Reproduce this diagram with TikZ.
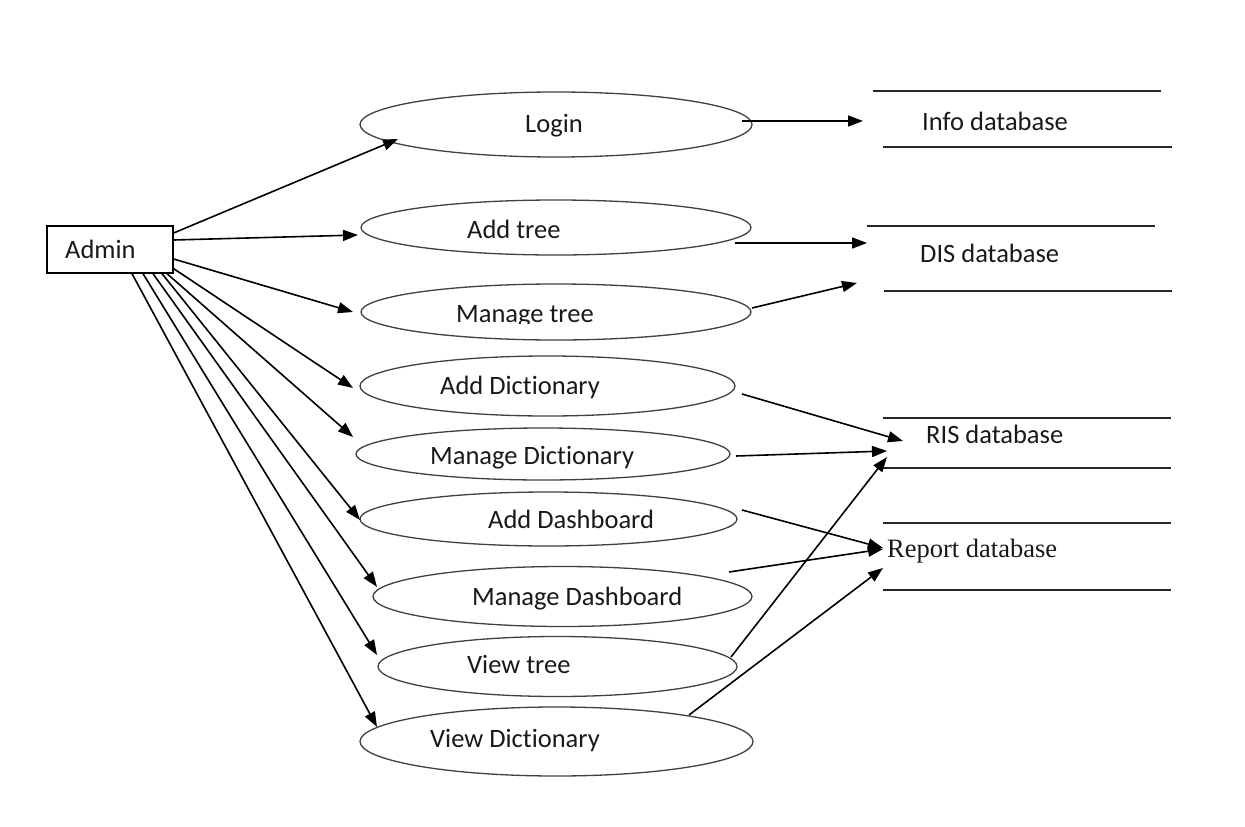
\documentclass[tikz,border=0pt]{standalone}
\usepackage{fontspec}
\setmainfont{Carlito}[Ligatures={NoCommon}]
\newfontfamily\serifdb{Liberation Serif}
\usetikzlibrary{arrows.meta,calc,shapes.geometric}
\begin{document}
\begin{tikzpicture}[x=1pt,y=-1pt,
  uc/.style={draw=black!75, line width=1.3pt, ellipse, inner sep=0pt},
  lbl/.style={anchor=base west, inner sep=0pt, font=\fontsize{26.5}{30}\selectfont, text=black!90},
  arr/.style={-{Triangle[length=15pt,width=11pt]}, line width=1.6pt},
  dbline/.style={line width=1.5pt, draw=black!85}]
\useasboundingbox (0,0) rectangle (1245,827);
\fill[white] (0,0) rectangle (1245,827);

% actor
\node[draw, line width=1.3pt, minimum width=126pt, minimum height=47pt, inner sep=0pt] (admin) at (110,249.5) {};
\node[lbl] (admint) at (65,258) {Admin};

% use cases
\node[uc, minimum width=392pt, minimum height=65pt] (login) at (556,124.5) {};
\node[uc, minimum width=390pt, minimum height=55pt] (addtree) at (556,227.5) {};
\node[uc, minimum width=390pt, minimum height=56pt] (managetree) at (556,312) {};
\node[uc, minimum width=375pt, minimum height=60pt] (adddict) at (547.5,386) {};
\node[uc, minimum width=374pt, minimum height=52pt] (managedict) at (543,454) {};
\node[uc, minimum width=377pt, minimum height=54pt] (adddash) at (548.5,519) {};
\node[uc, minimum width=379pt, minimum height=60pt] (managedash) at (562.5,596.5) {};
\node[uc, minimum width=359pt, minimum height=60pt] (viewtree) at (557.5,666.5) {};
\node[uc, minimum width=393pt, minimum height=69pt] (viewdict) at (556.5,741.5) {};

\node[lbl] (logint) at (525,132) {Login};
\node[lbl] (addtreet) at (467,238) {Add tree};
\begin{scope}
  \clip (400,280) rectangle (700,323);
  \node[lbl] (managetreet) at (456,322) {Manage tree};
\end{scope}
\node[lbl] (adddictt) at (440,394) {Add Dictionary};
\node[lbl] (managedictt) at (430,464) {Manage Dictionary};
\node[lbl] (adddasht) at (488,528) {Add Dashboard};
\node[lbl] (managedasht) at (472,605) {Manage Dashboard};
\node[lbl] (viewtreet) at (467,673) {View tree};
\node[lbl] (viewdictt) at (430,747) {View Dictionary};

% data stores
\draw[dbline] (873,91) -- (1161,91);
\draw[dbline] (883,147) -- (1172,147);
\node[lbl] (info) at (922,130) {Info database};
\draw[dbline] (867,226) -- (1155,226);
\draw[dbline] (884,291) -- (1172,291);
\node[lbl] (dis) at (920,262) {DIS database};
\draw[dbline] (883,418) -- (1171,418);
\draw[dbline] (883,468) -- (1171,468);
\node[lbl] (ris) at (926,443) {RIS database};
\draw[dbline] (883,523) -- (1171,523);
\draw[dbline] (883,590) -- (1171,590);
\node[lbl, font=\serifdb\fontsize{26.5}{30}\selectfont] (report) at (887,557) {Report database};

\coordinate (infoin) at (863,121);
\coordinate (disin1) at (867,243);
\coordinate (disin2) at (857,283);
\coordinate (risin1) at (903,441);
\coordinate (risin2) at (887,451);
\coordinate (risin3) at (887,457);
\coordinate (repin1) at (883,548);
\coordinate (repin2) at (883,549);
\coordinate (repin3) at (883,568);

% admin to use cases
\draw[arr] ($(admin.east)+(0,-16.5)$) -- ($(login)+(-158,14.5)$);
\draw[arr] ($(admin.east)+(0,-9.5)$) -- ($(addtree)+(-198,7.5)$);
\draw[arr] ($(admin.east)+(0,9.5)$) -- ($(managetree)+(-203,0)$);
\draw[arr] ($(admin.south east)+(0,-5)$) -- ($(adddict)+(-194.5,2)$);
\draw[arr] ($(admin.south)+(57,0)$) -- ($(managedict)+(-190,-17)$);
\draw[arr] ($(admin.south)+(52,0)$) -- ($(adddash)+(-188.5,1)$);
\draw[arr] ($(admin.south)+(43,0)$) -- ($(managedash)+(-185.5,-9.5)$);
\draw[arr] ($(admin.south)+(33,0)$) -- ($(viewtree)+(-180.5,-11.5)$);
\draw[arr] ($(admin.south)+(22,0)$) -- ($(viewdict)+(-179.5,-14.5)$);

% use cases to data stores
\draw[arr] ($(login)+(186,-3.5)$) -- (infoin);
\draw[arr] ($(addtree)+(179,15.5)$) -- (disin1);
\draw[arr] ($(managetree)+(196,-4)$) -- (disin2);
\draw[arr] ($(adddict)+(194.5,8)$) -- (risin1);
\draw[arr] ($(managedict)+(193,2)$) -- (risin2);
\draw[arr] ($(viewtree)+(173.5,-9.5)$) -- (risin3);
\draw[arr] ($(adddash)+(193.5,-9)$) -- (repin1);
\draw[arr] ($(managedash)+(166.5,-24.5)$) -- (repin2);
\draw[arr] ($(viewdict)+(132.5,-26.5)$) -- (repin3);
\end{tikzpicture}
\end{document}
